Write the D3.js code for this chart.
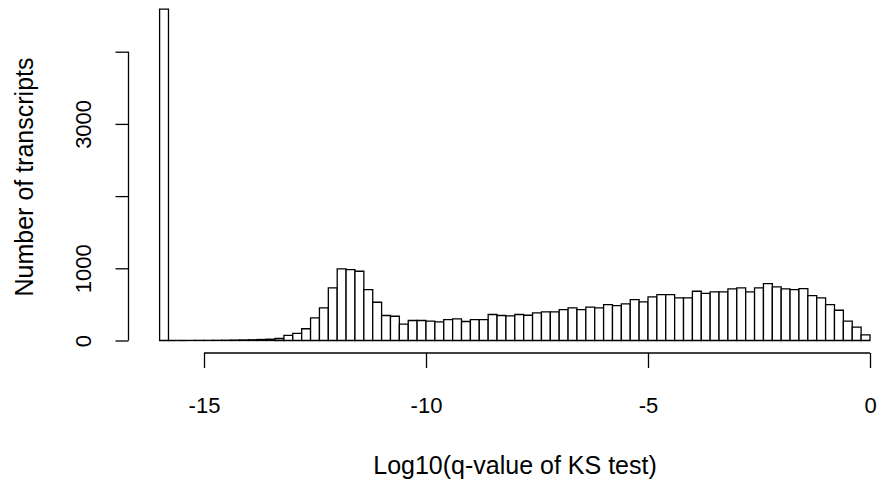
<!DOCTYPE html>
<html>
<head>
<meta charset="utf-8">
<script src="https://cdn.jsdelivr.net/npm/d3@7"></script>
<style>
  body { margin: 0; background: #fff; }
  svg { display: block; font-family: "Liberation Sans", Arial, sans-serif; }
</style>
</head>
<body>
<div id="demo"></div>
<script>
// histogram of log10 q-values, 0.2 wide bins starting at -16
let binStart = -16;
let binWidth = 0.2;
let counts = [
  4590, 0, 0, 1, 2, 2, 3, 4, 6, 8,
  10, 14, 18, 28, 70, 100, 163, 314, 452, 729,
  992, 982, 959, 705, 530, 346, 336, 228, 277, 277,
  267, 258, 290, 300, 263, 290, 290, 360, 346, 340,
  360, 350, 383, 397, 397, 429, 452, 429, 461, 452,
  498, 484, 507, 567, 535, 604, 636, 636, 590, 590,
  682, 654, 673, 673, 715, 729, 673, 729, 788, 742,
  715, 705, 719, 622, 590, 498, 419, 267, 184, 79
];
let xTicks = [-15, -10, -5, 0];
let yTicks = [0, 1000, 2000, 3000, 4000];
let yTickLabels = ["0", "1000", "", "3000", ""];
let xTitle = "Log10(q-value of KS test)";
let yTitle = "Number of transcripts";

let w = 879;
let h = 479;

let svg = d3.select("#demo")
  .append("svg")
  .attr("width", w)
  .attr("height", h);

let x = d3.scaleLinear()
  .domain([-16, 0])
  .range([159.6, 870]);

let y = d3.scaleLinear()
  .domain([0, 4000])
  .range([340.5, 51.7]);

let bins = counts.map((c, i) => {
  return { x0: binStart + i * binWidth, x1: binStart + (i + 1) * binWidth, n: c };
});

// paths instead of rects so empty bins still draw their outline
svg.append("g")
  .selectAll("path")
  .data(bins)
  .enter().append("path")
  .attr("d", (d) => {
    let p = d3.path();
    p.rect(x(d.x0), y(d.n), x(d.x1) - x(d.x0), y(0) - y(d.n));
    return p.toString();
  })
  .attr("fill", "#fff")
  .attr("stroke", "#000")
  .attr("stroke-width", 1.3);

// x axis, R style: line spans first to last tick
let xAxis = svg.append("g")
  .attr("transform", "translate(0,353)")
  .call(d3.axisBottom(x)
    .tickValues(xTicks)
    .tickSize(15)
    .tickPadding(29)
    .tickFormat((d) => d));

xAxis.select(".domain").remove();
xAxis.append("line")
  .attr("x1", x(xTicks[0]))
  .attr("x2", x(xTicks[xTicks.length - 1]))
  .attr("stroke", "#000")
  .attr("stroke-width", 1.3);
xAxis.selectAll(".tick line").attr("stroke-width", 1.3);
xAxis.selectAll("text")
  .attr("font-size", 22)
  .attr("fill", "#000")
  .attr("font-family", "Liberation Sans, Arial, sans-serif");

let yAxis = svg.append("g")
  .attr("transform", "translate(128.5,0)")
  .call(d3.axisLeft(y)
    .tickValues(yTicks)
    .tickSize(13)
    .tickFormat((d, i) => yTickLabels[i]));

yAxis.select(".domain").remove();
yAxis.append("line")
  .attr("y1", y(yTicks[0]))
  .attr("y2", y(yTicks[yTicks.length - 1]))
  .attr("stroke", "#000")
  .attr("stroke-width", 1.3);
yAxis.selectAll(".tick line").attr("stroke-width", 1.3);
yAxis.selectAll("text")
  .attr("font-size", 22)
  .attr("fill", "#000")
  .attr("font-family", "Liberation Sans, Arial, sans-serif")
  .attr("text-anchor", "middle")
  .attr("dy", null)
  .attr("x", null)
  .attr("transform", "translate(-45,0) rotate(-90)")
  .attr("dominant-baseline", "central");

svg.append("text")
  .attr("x", 515)
  .attr("y", 465)
  .attr("text-anchor", "middle")
  .attr("dominant-baseline", "central")
  .attr("font-size", 25)
  .text(xTitle);

svg.append("text")
  .attr("transform", "translate(24,177) rotate(-90)")
  .attr("text-anchor", "middle")
  .attr("dominant-baseline", "central")
  .attr("font-size", 25)
  .text(yTitle);
</script>
</body>
</html>
